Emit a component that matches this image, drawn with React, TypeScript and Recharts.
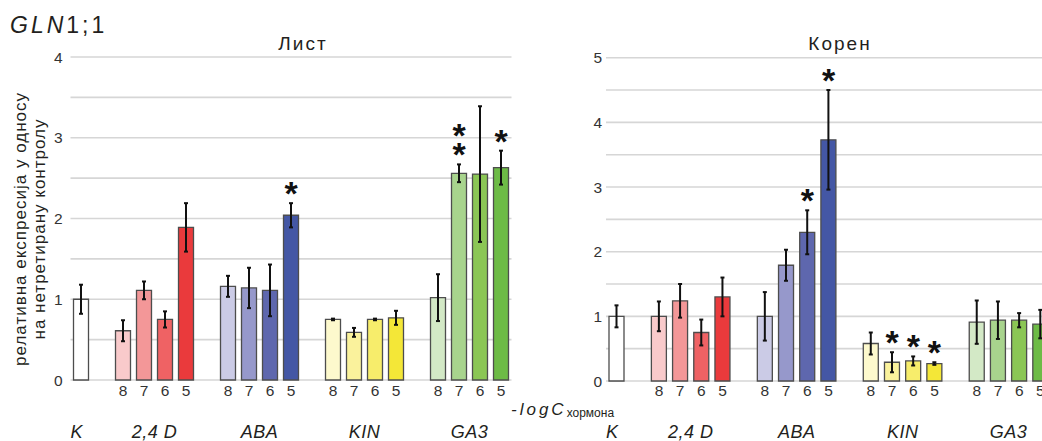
import React from "react";
import { Bar, CartesianGrid, Cell, ComposedChart, ErrorBar, Scatter, XAxis, YAxis } from "recharts";

const FONT = "'Liberation Sans', Arial, sans-serif";
const INK = "#231f20";
const GRID = "#d6d6d6";
const EDGE = "#4d4d4d";

const hormones = ["K", "2,4 D", "ABA", "KIN", "GA3"];
const concs = ["8", "7", "6", "5"];

// K, 2,4 D (8..5), ABA (8..5), KIN (8..5), GA3 (8..5)
const leafMean = [1.0, 0.61, 1.11, 0.75, 1.89, 1.16, 1.14, 1.11, 2.04, 0.75, 0.59, 0.75, 0.77, 1.02, 2.56, 2.55, 2.63];
const leafErr = [0.18, 0.13, 0.11, 0.1, 0.3, 0.13, 0.25, 0.32, 0.15, 0.01, 0.055, 0.01, 0.087, 0.29, 0.11, 0.84, 0.21];
const leafStars = [0, 0, 0, 0, 0, 0, 0, 0, 1, 0, 0, 0, 0, 0, 2, 0, 1];

const rootMean = [1.0, 1.0, 1.24, 0.75, 1.3, 1.0, 1.79, 2.3, 3.73, 0.58, 0.29, 0.31, 0.27, 0.91, 0.94, 0.94, 0.88];
const rootErr = [0.17, 0.23, 0.26, 0.2, 0.3, 0.375, 0.24, 0.34, 0.77, 0.17, 0.155, 0.07, 0.02, 0.335, 0.29, 0.11, 0.22];
const rootStars = [0, 0, 0, 0, 0, 0, 0, 1, 1, 0, 1, 1, 1, 0, 0, 0, 0];

const barColors = [
  "#ffffff",
  "#f9cacb", "#f39798", "#ef6264", "#ea3a3c",
  "#cbcbe6", "#9698cb", "#5e67ae", "#4457a5",
  "#fdf9cd", "#faf29c", "#f7ed6b", "#f4e737",
  "#d3e9c6", "#a8d48d", "#8bc655", "#6dbb46",
];

const leafTicks = [0, 0.5, 1, 1.5, 2, 2.5, 3, 3.5, 4];
const rootTicks = [0, 0.5, 1, 1.5, 2, 2.5, 3, 3.5, 4, 4.5, 5];

type Slot = {
  id: string;
  conc: string;
  group: string;
  shift: number;
  v: number | null;
  e: number | null;
  top: number | null;
  s: number;
  color: string;
};

// one slot per bar, with an empty slot between hormone groups
function buildSlots(mean: number[], err: number[], stars: number[]): Slot[] {
  const out: Slot[] = [];
  const mk = (k: number, conc: string, group: string, shift: number): Slot => ({
    id: "s" + k,
    conc,
    group,
    shift,
    v: mean[k],
    e: err[k],
    top: stars[k] ? mean[k] + err[k] : null,
    s: stars[k],
    color: barColors[k],
  });
  out.push(mk(0, "", hormones[0], -0.2));
  let k = 1;
  hormones.slice(1).forEach((h, gi) => {
    out.push({ id: "gap" + gi, conc: "", group: "", shift: 0, v: null, e: null, top: null, s: 0, color: "#fff" });
    concs.forEach((c, ci) => {
      out.push(mk(k, c, ci === 1 ? h : "", 0.5));
      k++;
    });
  });
  return out;
}

const leafData = buildSlots(leafMean, leafErr, leafStars);
const rootData = buildSlots(rootMean, rootErr, rootStars);

function makeTick(data: Slot[], slotW: number, numDy: number, groupDy: number) {
  return (props: any) => {
    const { x, y, payload } = props;
    const i = props.index ?? payload?.index ?? 0;
    const s = data[i];
    if (!s) return <g />;
    return (
      <g>
        {s.conc && (
          <text x={x} y={y + numDy} textAnchor="middle" fontSize={15.5} fill="#333" fontFamily={FONT}>
            {s.conc}
          </text>
        )}
        {s.group && (
          <text
            x={x + s.shift * slotW}
            y={y + groupDy}
            textAnchor="middle"
            fontSize={18}
            fontStyle="italic"
            letterSpacing={0.5}
            fill={INK}
            fontFamily={FONT}
          >
            {s.group}
          </text>
        )}
      </g>
    );
  };
}

// asterisks stacked above the top of the error bar
function StarShape(props: any) {
  const { cx, cy, payload } = props;
  if (!payload || !payload.s || !Number.isFinite(cx) || !Number.isFinite(cy)) return <g />;
  const marks = [];
  for (let n = 0; n < payload.s; n++) {
    const c = cy - 17 - n * 19;
    marks.push(
      <text key={n} x={cx} y={c + 19} textAnchor="middle" fontSize={34} fontWeight="bold" fill="#111" fontFamily={FONT}>
        *
      </text>
    );
  }
  return <g>{marks}</g>;
}

function Panel({
  data,
  ticks,
  max,
  width,
  margin,
  yWidth,
  xHeight,
  tickGap,
  numDy,
  groupDy,
}: {
  data: Slot[];
  ticks: number[];
  max: number;
  width: number;
  margin: { top: number; right: number; left: number; bottom: number };
  yWidth: number;
  xHeight: number;
  tickGap: number;
  numDy: number;
  groupDy: number;
}) {
  const slotW = (width - margin.left - margin.right - yWidth) / data.length;
  return (
    <ComposedChart width={width} height={441} data={data} margin={margin} barSize={15} style={{ overflow: "visible" }}>
      <CartesianGrid vertical={false} stroke={GRID} strokeWidth={1.6} />
      <XAxis
        dataKey="id"
        height={xHeight}
        axisLine={false}
        tickLine={false}
        tickSize={0}
        tickMargin={0}
        interval={0}
        tick={makeTick(data, slotW, numDy, groupDy)}
      />
      <YAxis
        width={yWidth}
        domain={[0, max]}
        ticks={ticks}
        interval={0}
        axisLine={false}
        tickLine={false}
        tickSize={tickGap}
        tickMargin={2}
        tickFormatter={(v: number) => (Number.isInteger(v) ? String(v) : "")}
        tick={{ fill: "#333", fontSize: 15.5, fontFamily: FONT }}
      />
      <Bar dataKey="v" stroke={EDGE} strokeWidth={1.3} isAnimationActive={false}>
        {data.map((d) => (
          <Cell key={d.id} fill={d.color} />
        ))}
        <ErrorBar dataKey="e" width={2} strokeWidth={2} stroke="#111" direction="y" />
      </Bar>
      <Scatter dataKey="top" shape={StarShape} isAnimationActive={false} />
    </ComposedChart>
  );
}

export default function App() {
  return (
    <div
      style={{
        position: "absolute",
        left: 0,
        top: 0,
        width: 1042,
        height: 441,
        overflow: "hidden",
        background: "#fff",
        fontFamily: FONT,
      }}
    >
      <div style={{ position: "absolute", left: 0, top: 0 }}>
        <Panel
          data={leafData}
          ticks={leafTicks}
          max={4}
          width={520}
          margin={{ top: 57, right: 8.5, left: 40.5, bottom: 0 }}
          yWidth={30}
          xHeight={61}
          tickGap={6}
          numDy={16}
          groupDy={58}
        />
      </div>
      <div style={{ position: "absolute", left: 520, top: 0 }}>
        <Panel
          data={rootData}
          ticks={rootTicks}
          max={5}
          width={540}
          margin={{ top: 57.7, right: 9, left: 56, bottom: 0 }}
          yWidth={30}
          xHeight={60}
          tickGap={2}
          numDy={15}
          groupDy={57}
        />
      </div>
      <svg width={1042} height={441} style={{ position: "absolute", left: 0, top: 0, pointerEvents: "none" }}>
        <text x={10} y={33} fontSize={23} letterSpacing={3} fill={INK} fontFamily={FONT}>
          <tspan fontStyle="italic">GLN</tspan>
          <tspan>1;1</tspan>
        </text>
        <text x={303} y={50} textAnchor="middle" fontSize={19} letterSpacing={2} fill={INK} fontFamily={FONT}>
          Лист
        </text>
        <text x={840} y={50} textAnchor="middle" fontSize={19} letterSpacing={2} fill={INK} fontFamily={FONT}>
          Корен
        </text>
        <text
          transform="translate(26 229) rotate(-90)"
          textAnchor="middle"
          fontSize={17}
          letterSpacing={1}
          fill={INK}
          fontFamily={FONT}
        >
          релативна експресија у односу
        </text>
        <text
          transform="translate(45 229) rotate(-90)"
          textAnchor="middle"
          fontSize={17}
          letterSpacing={1}
          fill={INK}
          fontFamily={FONT}
        >
          на нетретирану контролу
        </text>
        <text x={511} y={415} fontSize={17} fill={INK} fontFamily={FONT}>
          <tspan fontStyle="italic" letterSpacing={3}>-logC</tspan>
          <tspan fontSize={12} dy={2}>хормона</tspan>
        </text>
      </svg>
    </div>
  );
}
